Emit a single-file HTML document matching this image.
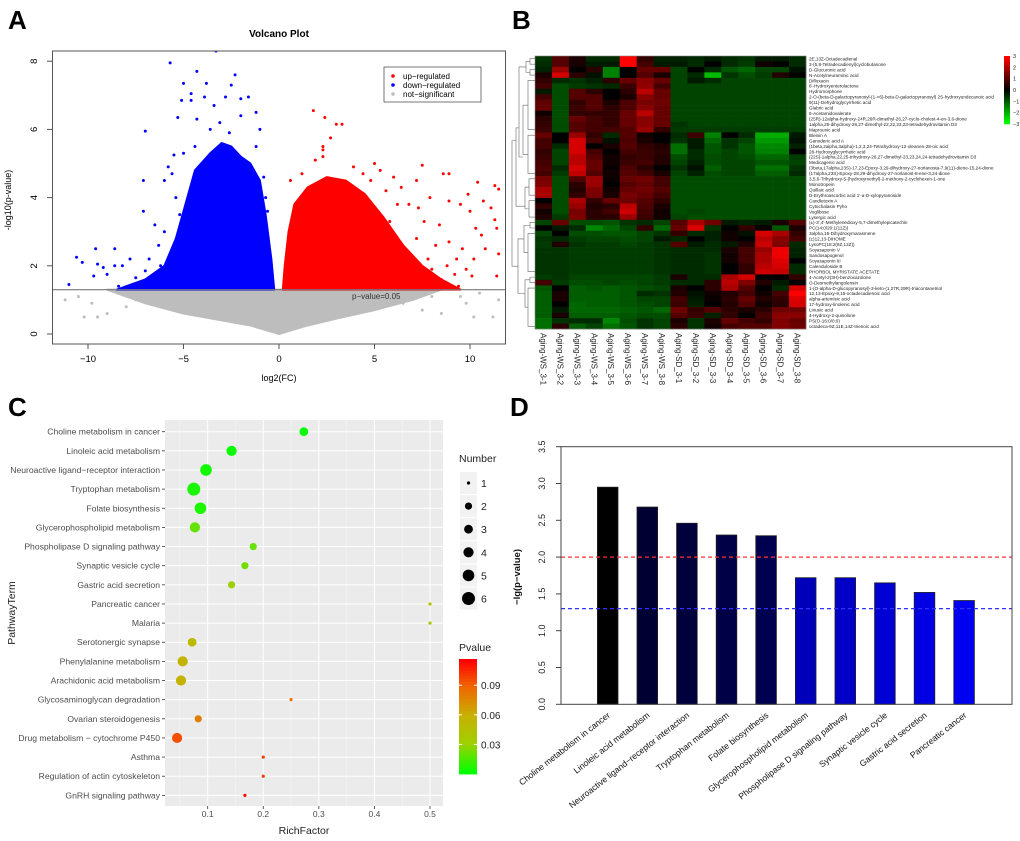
<!DOCTYPE html>
<html><head><meta charset="utf-8"><style>
html,body{margin:0;padding:0;background:#fff;}
svg{display:block;font-family:"Liberation Sans",sans-serif;}
</style></head><body>
<svg id="fig" width="1020" height="841" viewBox="0 0 1020 841" xmlns="http://www.w3.org/2000/svg">
<rect width="1020" height="841" fill="#fff"/>
<g id="pA"></g>
<g id="pB"></g>
<g id="pC"></g>
<g id="pD"></g>
</svg>
<script>
// ---------- Panel A data ----------
const volcBlueEnvelope = [[-8.5,1.3],[-7,1.6],[-6,2.0],[-5.4,2.8],[-4.9,3.8],[-4.4,4.8],[-3.6,5.3],[-3,5.6],[-2.5,5.5],[-2,5.2],[-1.5,5],[-1,4.5],[-0.7,3.5],[-0.4,2.2],[-0.25,1.3]];
const volcRedEnvelope = [[0.2,1.3],[0.3,2],[0.5,3],[0.8,3.8],[1.5,4.3],[2.5,4.6],[3.5,4.5],[4.5,4.1],[5.5,3.4],[6.5,2.6],[7.5,2.0],[8.5,1.6],[9.5,1.3]];
const volcGreyEnvelope = [[-9,1.3],[-7,0.9],[-5,0.6],[-3,0.4],[-1.5,0.25],[-0.3,0.05],[0,0],[0.3,0.05],[1.5,0.25],[3,0.45],[5,0.7],[7,1.0],[8.5,1.3]];
const volcBluePts = [[-3.3,8.3],[-5.7,7.95],[-4.3,7.7],[-2.3,7.6],[-5,7.35],[-3.8,7.35],[-4.6,7.05],[-2.5,7.3],[-3.9,6.95],[-5.1,6.85],[-4.6,6.85],[-2.8,6.95],[-1.6,6.95],[-2.0,6.9],[-3.4,6.7],[-5.3,6.35],[-7.0,5.95],[-4.3,6.3],[-2.0,6.4],[-1.2,6.5],[-3.6,6.0],[-1.0,6.0],[-5.5,5.25],[-4.4,5.5],[-5.0,5.3],[-7.1,4.5],[-5.8,4.9],[-6.0,4.5],[-5.6,4.7],[-7.1,3.6],[-6.5,3.2],[-6.0,3.0],[-6.3,2.6],[-6.8,2.2],[-7.8,2.2],[-8.6,2.5],[-9.6,2.5],[-10.6,2.25],[-10.3,2.1],[-9.5,2.05],[-8.6,2.0],[-8.2,2.0],[-9.2,1.95],[-9.0,1.75],[-9.7,1.7],[-11.0,1.45],[-8.4,1.4],[-7.0,1.85],[-7.5,1.65],[-6.2,2.0],[-0.6,3.6],[-0.7,4.0],[-0.8,4.6],[-5.2,3.5],[-5.4,4.0],[-1.2,5.5],[-2.6,5.9],[-3.1,6.2]];
const volcRedPts = [[1.8,6.55],[2.4,6.35],[3.0,6.15],[3.3,6.15],[2.7,5.75],[2.3,5.5],[2.3,5.4],[2.3,5.2],[1.9,5.1],[5.0,5.0],[7.5,4.95],[8.6,4.7],[8.9,4.7],[10.4,4.45],[11.5,4.25],[11.3,4.35],[9.9,4.1],[10.7,3.9],[11.1,3.7],[7.9,4.0],[8.9,3.9],[9.5,3.8],[10.0,3.6],[10.3,3.1],[10.6,2.9],[11.3,3.35],[11.4,3.1],[11.5,2.35],[10.2,2.2],[9.6,2.5],[8.9,2.7],[9.3,2.2],[8.8,2.0],[9.8,1.9],[10.1,1.7],[11.4,1.7],[12,1.8],[9.2,1.75],[8.5,1.6],[9.4,1.4],[8.7,1.35],[7.8,2.2],[7.2,2.8],[7.6,3.3],[6.8,3.8],[6.4,4.3],[7.2,4.5],[6.0,4.6],[5.3,4.8],[4.4,4.7],[8.4,3.2],[8.2,2.6],[7.0,1.7],[6.5,1.6],[6.0,2.5],[6.8,2.2],[5.8,3.3],[7.3,3.7],[8.0,1.9],[10.8,2.5],[4.8,4.5],[5.6,4.2],[6.2,3.8],[3.9,4.9],[1.2,4.7],[0.6,4.5]];
const volcGreyPts = [[-11.2,1.0],[-10.2,0.5],[-9.5,0.5],[-10.5,1.1],[-9.8,0.9],[-9,0.6],[-8.4,1.2],[-7.5,1.0],[8.5,0.6],[9.5,1.1],[10.5,1.2],[11.2,0.5],[10.2,0.5],[9.8,0.9],[11.5,1.0],[8,1.1],[6.5,0.9],[-8,0.8],[7.5,0.7]];
const volcXTicks = [-10,-5,0,5,10];
const volcYTicks = [0,2,4,6,8];
const volcThreshold = 1.3;

// ---------- Panel B data ----------
const hmCols = ["Aging-WS_3-1","Aging-WS_3-2","Aging-WS_3-3","Aging-WS_3-4","Aging-WS_3-5","Aging-WS_3-6","Aging-WS_3-7","Aging-WS_3-8","Aging-SD_3-1","Aging-SD_3-2","Aging-SD_3-3","Aging-SD_3-4","Aging-SD_3-5","Aging-SD_3-6","Aging-SD_3-7","Aging-SD_3-8"];
const hmRows = ["2E,13Z-Octadecadienal","2-(5,8-Tetradecadienyl)cyclobutanone","D-Glucuronic acid","N-Acetylneuraminic acid","Difloxacin","6'-Hydroxyenterolactone","Hydromorphone","2-O-(beta-D-galactopyranosyl-(1->6)-beta-D-galactopyranosyl) 2S-hydroxyundecanoic acid","9(11)-Dehydroglycyrrhetic acid","Glabric acid","5-Acetamidovalerate","(25R)-12alpha-hydroxy-24R,26R-dimethyl-26,27-cyclo-cholest-4-en-3,6-dione","1alpha,25-dihydroxy-26,27-dimethyl-22,22,23,23-tetradehydrovitamin D3","Maprounic acid","Bleinin A","Ganoderic acid A","(1beta,2alpha,3alpha)-1,2,3,24-Tetrahydroxy-12-oleanen-28-oic acid","28-Hydroxyglycyrrhetic acid","(22S)-1alpha,22,25-trihydroxy-26,27-dimethyl-23,23,24,24-tetradehydrovitamin D3","Medicagenic acid","(3beta,17alpha,23S)-17,23-Epoxy-3,29-dihydroxy-27-norlanosta-7,9(11)-diene-15,24-dione","(17alpha,23S)-Epoxy-28,29-dihydroxy-27-norlanost-8-ene-3,24-dione","3,5,6-Trihydroxy-5-(hydroxymethyl)-2-methoxy-2-cyclohexen-1-one","Monotropein","Quillaic acid","D-Erythroascorbic acid 1'-a-D-xylopyranoside","Candletoxin A","Cytochalasin Pyho","Voglibose","Lysergic acid","(±)-3',4'-Methylenedioxy-5,7-dimethylepicatechin","PC(14:0/20:1(11Z))","3alpha,15-Dihydroxymarasmene","(±)12,13-DiHOME","LysoPC(18:2(9Z,12Z))","Soyasaponin V","Sandosapogenol","Soyasaponin III","Calenduloside B","PHORBOL MYRISTATE ACETATE","4-Acetyl-2(3H)-benzoxazolone","O-Desmethylangolensin","1-(O-alpha-D-glucopyranosyl)-3-keto-(1,27R,29R)-triacontanetriol","12,13-Epoxy-9,15-octadecadienoic acid","alpha-artemisic acid","17-hydroxy-linolenic acid","Linusic acid","4-Hydroxy-2-quinolone","PS(O-16:0/0:0)","octadeca-9Z,11E,14Z-trienoic acid"];
const hmVals = [
[-0.6,1,0.3,-0.5,-0.5,3,0.6,-0.4,-0.4,-0.5,-0.3,-0.5,-0.6,-0.3,-0.3,-0.5],
[-0.5,1,0.3,-0.3,-0.3,3,0.8,-0.3,-0.3,-0.5,0,-0.5,-0.7,0.2,0,-0.5],
[-0.4,1.8,0,0.5,-1.5,0,1.2,1.2,-0.8,0,-0.5,-1,-1.2,-0.8,-0.8,-0.2],
[0.3,2.5,0.5,-0.2,-1.5,0,1,0.3,-0.8,-0.5,-2.2,-0.6,-0.9,-0.7,0.4,0],
[0.6,-0.5,-0.6,-0.4,0.5,1.2,1.6,1.2,-0.8,-0.3,-0.5,-0.8,-0.8,-0.8,-0.8,-0.8],
[0.8,-0.9,-0.7,-0.6,-0.5,0.7,1.7,0.8,-0.8,-0.8,-0.8,-0.8,-0.8,-0.8,-0.8,-0.8],
[-0.3,-0.9,1,0.5,0,0.5,2.2,1.2,-0.8,-0.8,-0.8,-0.8,-0.8,-0.8,-0.8,-0.8],
[0.8,-0.9,1,1,0,0.3,1.6,1.2,-0.8,-0.8,-0.8,-0.8,-0.8,-0.8,-0.8,-0.8],
[1.1,-0.9,0.6,1,0.3,0.9,1.4,1.3,-0.8,-0.8,-0.8,-0.8,-0.8,-0.8,-0.8,-0.8],
[1.2,-0.9,0.7,1,0.5,0.9,1.6,1.2,-0.8,-0.8,-0.8,-0.8,-0.8,-0.8,-0.8,-0.8],
[0.2,-0.9,0.6,0.6,0.6,1.2,2.2,1.2,-0.8,-0.8,-0.8,-0.8,-0.8,-0.8,-0.8,-0.8],
[0.5,-0.9,1.2,0.8,0.6,1.2,1.6,1.2,-0.8,-0.8,-0.8,-0.8,-0.8,-0.8,-0.8,-0.8],
[0.6,-0.9,1,0.8,0.6,1.2,1.6,1.2,-0.6,-0.8,-0.8,-0.8,-0.8,-0.8,-0.8,-0.8],
[0.7,-0.9,1,0.8,0.8,1,1.8,0.6,-0.7,-0.7,-0.7,-0.7,-0.7,-0.7,-0.7,-0.7],
[1.2,0,1.8,0.6,-0.5,1,0.2,0,-0.5,0.7,-1.5,0,-0.5,-2,-2,-0.3],
[0.8,0,2.5,0.8,-0.2,0.9,0.3,0,-0.6,-0.3,-1.2,-0.6,-0.8,-1.8,-1.8,-0.2],
[0.8,-0.5,2.5,0,0.3,1,0.6,0.4,-1.3,-0.3,-1,-0.6,-1,-1.6,-1.6,-0.4],
[0.6,-0.8,2.5,0.8,0,0.8,0.7,0.5,-1.3,-0.5,-1,-0.8,-1,-1.5,-1.5,0],
[0.7,-0.8,2.2,1,0.2,0.6,0.7,0.4,-0.9,-0.5,-0.9,-0.8,-0.9,-1.2,-1.2,-0.7],
[0.8,-0.8,2.2,1.2,0.2,0.7,0.8,0.4,-0.8,-0.4,-0.9,-0.8,-0.8,-1,-1,-0.8],
[0.9,-0.5,2.5,1.2,0.1,0.9,0.5,0,-0.6,-0.2,-1.1,-0.8,-0.8,-1.3,-1.3,-0.6],
[0.8,-0.7,2.3,1,0.2,1,0.8,0.3,-0.8,-0.4,-0.9,-0.8,-0.8,-1.1,-1.1,-0.5],
[1.4,-0.9,1,1.8,0.1,1.2,1.3,0.8,-0.9,-0.9,-0.9,-0.9,-0.9,-0.9,-0.9,-0.9],
[1.5,-0.9,0.5,1.8,0,1,1.2,0.8,-0.9,-0.9,-0.9,-0.9,-0.9,-0.9,-0.9,-0.9],
[2,-0.9,0.4,1.5,0.2,1.2,1.3,1,-0.9,-0.9,-0.9,-0.9,-0.9,-0.9,-0.9,-0.9],
[2,-0.9,0.6,1.4,0.3,1.4,1.2,0.8,-0.9,-0.9,-0.9,-0.9,-0.9,-0.9,-0.9,-0.9],
[0,-0.9,2,0.6,1.2,1.3,1,0.6,-0.9,-0.9,-0.9,-0.9,-0.9,-0.9,-0.9,-0.9],
[0.6,-0.9,1.8,0.4,0.5,2.2,0.9,0.3,-0.9,-0.9,-0.9,-0.9,-0.9,-0.9,-0.9,-0.9],
[0.2,-0.9,1.4,0.5,0.8,2.4,0.8,0.2,-0.9,-0.8,-0.9,-0.9,-0.9,-0.9,-0.9,-0.9],
[0.4,-0.7,1.5,0.5,0.5,1.8,0.7,0.2,-0.8,-0.9,-0.9,-0.9,-0.9,-0.9,-0.9,-0.9],
[-0.8,1.2,-0.9,-0.9,-1,-0.6,-0.5,-0.8,1,2,1.3,-0.3,-0.4,-0.3,0.3,1],
[0,-0.3,-0.5,-1.6,-1.2,-0.8,0.6,-1.2,1.2,2.6,-0.6,0,0.6,0.1,-1,0.3],
[-0.8,0,-0.9,-0.9,-1,-1,-0.8,-0.6,0.6,-0.5,-0.4,0.2,-0.2,2.5,2,0.6],
[-0.6,-0.5,-0.7,-0.8,-0.8,-0.9,-0.8,-0.3,-0.5,0,-0.4,0.2,0,2.2,1.6,0.8],
[-0.7,0.4,-0.6,-0.7,-0.7,-0.8,-0.7,-0.6,1,-0.3,-0.5,-0.3,0.4,2.4,1.5,-0.5],
[-0.6,-0.6,-0.7,-0.7,-0.7,-0.7,-0.7,-0.6,-0.5,-0.5,-0.5,0.3,0.8,1.8,2.8,-0.4],
[-0.6,-0.6,-0.7,-0.7,-0.7,-0.7,-0.7,-0.6,-0.5,-0.5,-0.6,0.2,0.8,2,2.8,-0.4],
[-0.6,-0.6,-0.7,-0.7,-0.7,-0.7,-0.7,-0.6,-0.5,-0.5,-0.6,0.2,0.8,2,2.6,0],
[-0.6,-0.6,-0.7,-0.7,-0.7,-0.7,-0.7,-0.6,-0.5,-0.5,-0.6,0,0.6,2.2,2.5,-0.5],
[-0.6,-0.6,-0.7,-0.7,-0.7,-0.7,-0.7,-0.6,-0.5,-0.5,-0.6,0,0.6,2.4,2.3,-0.5],
[-0.7,-0.6,-0.8,-0.8,-0.8,-0.8,-0.8,-0.7,0.3,-0.5,-0.5,2,2.5,0,0,0.6],
[0.8,-0.7,-0.9,-0.9,-0.8,-0.9,-0.8,-0.7,-0.5,-0.5,0.5,2.2,1.5,0.4,-0.3,0],
[-1,0,-1.1,-1,-1.1,-1,-0.9,-0.8,0.3,0,0.5,2,1,0,-0.5,2.5],
[-1.1,0.3,-1.1,-1.1,-1.1,-1,-0.5,-0.6,0.4,-0.2,0.2,0.4,0.8,0.2,0.8,3],
[-1.1,0.3,-1.1,-1.1,-1.1,-1,-0.8,-0.8,0.8,-0.3,0.1,0.5,1.2,0.4,0.6,2.6],
[-1.1,0,-1.2,-1.1,-1.1,-1,-0.9,-0.8,0.7,-0.4,0,0.4,1,0.2,0.5,2.5],
[-1.1,-0.3,-1.2,-1.2,-1.2,-1.1,-1,-1.2,1.3,0.6,1,0.5,0.3,0.5,1.3,1.3],
[-1.1,0.3,-1.1,-1.1,-1.1,-1,-0.9,-0.9,1,0.7,-0.4,0.6,0,0.8,1.6,1.6],
[-1.3,-0.6,-0.5,-0.5,-1.6,-0.9,-0.6,-0.8,0.3,-0.6,0.3,1.2,0.8,0.6,1.5,1.2],
[-1.3,0.5,-1.1,-0.8,-1.3,-1,-0.6,-0.8,0.5,-0.6,0.2,0.8,1,1,1.5,1.3]
];
const hmKeyTicks = [3,2,1,0,-1,-2,-3];

// ---------- Panel C data ----------
const bubTerms = ["Choline metabolism in cancer","Linoleic acid metabolism","Neuroactive ligand\u2212receptor interaction","Tryptophan metabolism","Folate biosynthesis","Glycerophospholipid metabolism","Phospholipase D signaling pathway","Synaptic vesicle cycle","Gastric acid secretion","Pancreatic cancer","Malaria","Serotonergic synapse","Phenylalanine metabolism","Arachidonic acid metabolism","Glycosaminoglycan degradation","Ovarian steroidogenesis","Drug metabolism \u2212 cytochrome P450","Asthma","Regulation of actin cytoskeleton","GnRH signaling pathway"];
const bubRich = [0.273,0.143,0.097,0.075,0.087,0.077,0.182,0.167,0.143,0.5,0.5,0.072,0.055,0.052,0.25,0.083,0.045,0.2,0.2,0.167];
const bubCount = [3,4,5,6,5,4,2,2,2,1,1,3,4,4,1,2,4,1,1,1];
const bubP = [0.0011,0.002,0.0035,0.005,0.005,0.019,0.019,0.022,0.03,0.039,0.04,0.05,0.055,0.058,0.085,0.08,0.095,0.1,0.1,0.115];
const bubXTicks = [0.1,0.2,0.3,0.4,0.5];
const bubSizeLegend = [1,2,3,4,5,6];
const bubPTicks = [0.09,0.06,0.03];

// ---------- Panel D data ----------
const barTerms = ["Choline metabolism in cancer","Linoleic acid metabolism","Neuroactive ligand\u2212receptor interaction","Tryptophan metabolism","Folate biosynthesis","Glycerophospholipid metabolism","Phospholipase D signaling pathway","Synaptic vesicle cycle","Gastric acid secretion","Pancreatic cancer"];
const barVals = [2.95,2.68,2.46,2.30,2.29,1.72,1.72,1.65,1.52,1.41];
const barYTicks = [0.0,0.5,1.0,1.5,2.0,2.5,3.0,3.5];
const barRedLine = 2.0;
const barBlueLine = 1.3;

const NS="http://www.w3.org/2000/svg";
function mk(tag, attrs, parent, text){
  const e=document.createElementNS(NS,tag);
  for(const k in attrs) e.setAttribute(k,attrs[k]);
  if(text!==undefined) e.textContent=text;
  parent.appendChild(e); return e;
}

// ================= Panel A =================
(function(){
  const g=document.getElementById('pA');
  const X=v=>279+v*19.1, Y=v=>334-v*34.1;
  let t=mk('text',{x:8,y:29,'font-size':26,'font-weight':'bold'},g,'A');
  
  
  t=mk('text',{x:279,y:37,'font-size':10,'font-weight':'bold','text-anchor':'middle'},g,'Volcano Plot');
  
  
  const clip=mk('clipPath',{id:'clipA'},g); mk('rect',{x:53,y:51,width:452,height:293},clip);
  const pg=mk('g',{'clip-path':'url(#clipA)'},g);
  function env(arr,color,name,base){
    let d='M'+X(arr[0][0])+','+Y(base);
    arr.forEach(p=>{d+=' L'+X(p[0])+','+Y(p[1]);});
    d+=' L'+X(arr[arr.length-1][0])+','+Y(base)+'Z';
    const p=mk('path',{d:d,fill:color,stroke:color,'stroke-width':2,'stroke-linejoin':'round'},pg);
    
    
  }
  env(volcGreyEnvelope,'#bdbdbd','not-significant-cloud',volcThreshold);
  env(volcBlueEnvelope,'#0000ff','down-regulated-cloud',volcThreshold);
  env(volcRedEnvelope,'#ff0000','up-regulated-cloud',volcThreshold);
  function pts(arr,color,name){
    arr.forEach(p=>{
      const c=mk('circle',{cx:X(p[0]),cy:Y(p[1]),r:1.5,fill:color},pg);
      
      
    });
  }
  pts(volcGreyPts,'#bdbdbd','not-significant-point');
  pts(volcBluePts,'#0000ff','down-regulated-point');
  pts(volcRedPts,'#ff0000','up-regulated-point');
  let l=mk('line',{x1:53,x2:505,y1:Y(volcThreshold),y2:Y(volcThreshold),stroke:'#777','stroke-width':1.2},g);
  
  
  t=mk('text',{x:352,y:299,'font-size':8,fill:'#333'},g,'p\u2212value=0.05');
  
  
  mk('rect',{x:52.5,y:51,width:453,height:293,fill:'none',stroke:'#555','stroke-width':1},g);
  volcXTicks.forEach(v=>{
    mk('line',{x1:X(v),x2:X(v),y1:344,y2:349,stroke:'#555'},g);
    const tt=mk('text',{x:X(v),y:362,'font-size':9.5,'text-anchor':'middle'},g,(v<0?'\u2212':'')+Math.abs(v));
    
    
  });
  volcYTicks.forEach(v=>{
    mk('line',{x1:52,x2:47,y1:Y(v),y2:Y(v),stroke:'#555'},g);
    const tt=mk('text',{x:0,y:0,'font-size':9.5,'text-anchor':'middle',transform:`translate(37,${Y(v)}) rotate(-90)`},g,String(v));
    
    
  });
  t=mk('text',{x:0,y:0,'font-size':9,'text-anchor':'middle',transform:'translate(11,200) rotate(-90)'},g,'-log10(p-value)');
  
  
  t=mk('text',{x:279,y:381,'font-size':9,'text-anchor':'middle'},g,'log2(FC)');
  
  
  const lg=mk('g',{},g);
  
  
  mk('rect',{x:384,y:67,width:97,height:35,fill:'#fff',stroke:'#555','stroke-width':0.8},lg);
  [['up\u2212regulated','#ff0000'],['down\u2212regulated','#0000ff'],['not\u2212significant','#bdbdbd']].forEach((e,i)=>{
    mk('circle',{cx:393,cy:76+i*9,r:1.8,fill:e[1]},lg);
    const tt=mk('text',{x:403,y:79+i*9,'font-size':8},lg,e[0]);
    
    
  });
})();

// ================= Panel B =================
(function(){
  const g=document.getElementById('pB');
  const x0=535,x1=806,y0=56,y1=329;
  const cw=(x1-x0)/hmCols.length, rh=(y1-y0)/hmRows.length;
  let t=mk('text',{x:512,y:29,'font-size':26,'font-weight':'bold'},g,'B');
  
  
  function col(v){
    v=Math.max(-3,Math.min(3,v));
    if(v>=0) return `rgb(${Math.round(85*v)},0,0)`;
    return `rgb(0,${Math.round(-85*v)},0)`;
  }
  hmVals.forEach((row,i)=>{
    row.forEach((v,j)=>{
      const r=mk('rect',{x:x0+j*cw,y:y0+i*rh,width:cw+0.3,height:rh+0.3,fill:col(v)},g);
      
      
    });
  });
  mk('rect',{x:x0,y:y0,width:x1-x0,height:y1-y0,fill:'none',stroke:'#888','stroke-width':0.6},g);
  hmRows.forEach((n,i)=>{
    const tt=mk('text',{x:809,y:y0+(i+0.5)*rh+1.7,'font-size':4.6,fill:'#222'},g,n);
    
    
  });
  hmCols.forEach((n,j)=>{
    const tt=mk('text',{x:0,y:0,'font-size':8,fill:'#222',transform:`translate(${x0+(j+0.5)*cw-3},333) rotate(90)`},g,n);
    
    
  });
  // dendrogram (decorative structure)
  const dg=mk('g',{stroke:'#666','stroke-width':0.6,fill:'none'},g);
  
  
  const yc=i=>y0+(i+0.5)*rh;
  function br(a,b,xl,xa,xb){ mk('path',{d:`M${xa},${yc(a)} H${xl} V${yc(b)} H${xb}`},dg); }
  br(0,1,530,535,535); br(2,3,530,535,535); br(4,13,528,535,535);
  br(14,21,528,535,535); br(22,25,529,535,535); br(26,29,529,535,535);
  mk('path',{d:`M530,${(yc(0)+yc(1))/2} H526 V${(yc(2)+yc(3))/2} H530`},dg);
  mk('path',{d:`M528,${(yc(4)+yc(13))/2} H523 V${(yc(14)+yc(21))/2} H528`},dg);
  mk('path',{d:`M529,${(yc(22)+yc(25))/2} H525 V${(yc(26)+yc(29))/2} H529`},dg);
  mk('path',{d:`M526,${(yc(0)+yc(3))/2} H519 V${yc(18)} H523`},dg);
  mk('path',{d:`M519,${(yc(0)+yc(18))/2+20} H516 V${yc(27)} H525`},dg);
  br(30,31,530,535,535); br(32,39,528,535,535); br(40,41,530,535,535); br(42,49,528,535,535);
  mk('path',{d:`M530,${yc(30.5)} H524 V${yc(35.5)} H528`},dg);
  mk('path',{d:`M530,${yc(40.5)} H525 V${yc(45.5)} H528`},dg);
  mk('path',{d:`M524,${yc(33)} H518 V${yc(43)} H525`},dg);
  mk('path',{d:`M516,${yc(15)} H512 V${yc(38)} H518`},dg);
  // color key
  const kg=mk('g',{},g);
  
  
  const ky0=56,ky1=124;
  for(let k=0;k<30;k++){
    const v=3-6*k/29;
    mk('rect',{x:1004,y:ky0+k*(ky1-ky0)/30,width:6,height:(ky1-ky0)/30+0.3,fill:v>=0?`rgb(${Math.round(85*v)},0,0)`:`rgb(0,${Math.round(-85*v)},0)`},kg);
  }
  hmKeyTicks.forEach(v=>{
    const y=ky0+(3-v)/6*(ky1-ky0);
    const tt=mk('text',{x:1013,y:y+2,'font-size':5.5,fill:'#222'},kg,(v<0?'\u2212':'')+Math.abs(v));
    
    
  });
})();

// ================= Panel C =================
(function(){
  const g=document.getElementById('pC');
  const px0=165,px1=443,py0=420,py1=806;
  const X=v=>152.1+v*555.8;
  const Y=i=>431.7+i*19.14;
  const R=n=>[0,1.6,3.6,4.4,5.1,5.8,6.5][n];
  function pcol(p){
    const stops=[[0,[0,255,0]],[0.26,[160,208,0]],[0.51,[200,176,0]],[0.77,[240,100,0]],[1,[255,0,0]]];
    let t=Math.max(0,Math.min(1,p/0.1166));
    for(let k=1;k<stops.length;k++){
      if(t<=stops[k][0]){
        const a=stops[k-1],b=stops[k],f=(t-a[0])/(b[0]-a[0]);
        return `rgb(${a[1].map((c,i)=>Math.round(c+(b[1][i]-c)*f)).join(',')})`;
      }
    }
    return 'rgb(255,0,0)';
  }
  let t=mk('text',{x:8,y:416,'font-size':26,'font-weight':'bold'},g,'C');
  
  
  mk('rect',{x:px0,y:py0,width:px1-px0,height:py1-py0,fill:'#ebebeb'},g);
  [0.05,0.15,0.25,0.35,0.45].forEach(v=>mk('line',{x1:X(v),x2:X(v),y1:py0,y2:py1,stroke:'#f7f7f7','stroke-width':0.5},g));
  bubXTicks.forEach(v=>{
    mk('line',{x1:X(v),x2:X(v),y1:py0,y2:py1,stroke:'#fff','stroke-width':1},g);
    mk('line',{x1:X(v),x2:X(v),y1:py1,y2:py1+3,stroke:'#333','stroke-width':0.8},g);
    const tt=mk('text',{x:X(v),y:py1+11,'font-size':8.5,'text-anchor':'middle',fill:'#4d4d4d'},g,String(v));
    
    
  });
  bubTerms.forEach((n,i)=>{
    mk('line',{x1:px0,x2:px1,y1:Y(i),y2:Y(i),stroke:'#fff','stroke-width':1},g);
    mk('line',{x1:px0-3,x2:px0,y1:Y(i),y2:Y(i),stroke:'#333','stroke-width':0.8},g);
    const tt=mk('text',{x:px0-5,y:Y(i)+3,'font-size':8.6,'text-anchor':'end',fill:'#4d4d4d'},g,n);
    
    
  });
  bubTerms.forEach((n,i)=>{
    const c=mk('circle',{cx:X(bubRich[i]),cy:Y(i),r:R(bubCount[i]),fill:pcol(bubP[i])},g);
    
    
  });
  t=mk('text',{x:304,y:834,'font-size':10.5,'text-anchor':'middle',fill:'#222'},g,'RichFactor');
  
  
  t=mk('text',{x:0,y:0,'font-size':10.5,'text-anchor':'middle',fill:'#222',transform:'translate(15,613) rotate(-90)'},g,'PathwayTerm');
  
  
  // size legend
  const sl=mk('g',{},g);
  
  
  mk('text',{x:459,y:462,'font-size':10.5,fill:'#222'},sl,'Number');
  bubSizeLegend.forEach((n,k)=>{
    const y=483+k*23.1;
    mk('rect',{x:460,y:y-11,width:17,height:22,fill:'#f2f2f2'},sl);
    mk('circle',{cx:468.5,cy:y,r:R(n),fill:'#000'},sl);
    const tt=mk('text',{x:481,y:y+4,'font-size':10.5,fill:'#222'},sl,String(n));
    
    
  });
  // colorbar
  const cl=mk('g',{},g);
  
  
  mk('text',{x:459,y:651,'font-size':10.5,fill:'#222'},cl,'Pvalue');
  const cb0=659,cb1=774;
  for(let k=0;k<40;k++){
    const p=0.1166*(1-k/39);
    mk('rect',{x:459,y:cb0+k*(cb1-cb0)/40,width:18,height:(cb1-cb0)/40+0.4,fill:pcol(p)},cl);
  }
  bubPTicks.forEach(v=>{
    const y=cb1-(v/0.1166)*(cb1-cb0);
    mk('line',{x1:459,x2:462,y1:y,y2:y,stroke:'#fff'},cl);
    mk('line',{x1:474,x2:477,y1:y,y2:y,stroke:'#fff'},cl);
    const tt=mk('text',{x:481,y:y+4,'font-size':10,fill:'#222'},cl,v.toFixed(2));
    
    
  });
})();

// ================= Panel D =================
(function(){
  const g=document.getElementById('pD');
  const bx0=561,bx1=1012,by0=446.7,by1=704.3;
  const Y=v=>by1-v*(by1-by0)/3.5;
  const X=i=>607.7+i*39.6;
  let t=mk('text',{x:510,y:416,'font-size':26,'font-weight':'bold'},g,'D');
  
  
  const n=barVals.length;
  barVals.forEach((v,i)=>{
    const f=i/(n-1);
    const b=i<5?Math.round(40+i*10 - (i===0?40:0)):Math.round(185+(i-5)*14);
    const r=mk('rect',{x:X(i)-10.3,y:Y(v),width:20.6,height:by1-Y(v),fill:`rgb(0,0,${i===0?0:b})`,stroke:'#222','stroke-width':0.8},g);
    
    
    const tt=mk('text',{x:0,y:0,'font-size':8.6,'text-anchor':'end',fill:'#111',transform:`translate(${X(i)+3},${by1+12}) rotate(-38)`},g,barTerms[i]);
    
    
  });
  let l=mk('line',{x1:bx0,x2:bx1,y1:Y(barRedLine),y2:Y(barRedLine),stroke:'#ff3030','stroke-width':1.2,'stroke-dasharray':'4,3'},g);
  
  
  l=mk('line',{x1:bx0,x2:bx1,y1:Y(barBlueLine),y2:Y(barBlueLine),stroke:'#3030ff','stroke-width':1.2,'stroke-dasharray':'4,3'},g);
  
  
  mk('rect',{x:bx0,y:by0,width:bx1-bx0,height:by1-by0,fill:'none',stroke:'#444','stroke-width':1},g);
  barYTicks.forEach(v=>{
    mk('line',{x1:bx0,x2:bx0-5,y1:Y(v),y2:Y(v),stroke:'#444'},g);
    const tt=mk('text',{x:0,y:0,'font-size':9,'text-anchor':'middle',fill:'#222',transform:`translate(545,${Y(v)}) rotate(-90)`},g,v.toFixed(1));
    
    
  });
  t=mk('text',{x:0,y:0,'font-size':9.5,'font-weight':'bold','text-anchor':'middle',fill:'#111',transform:'translate(520,577) rotate(-90)'},g,'\u2212lg(p\u2212value)');
  
  
})();
</script>
</body></html>
